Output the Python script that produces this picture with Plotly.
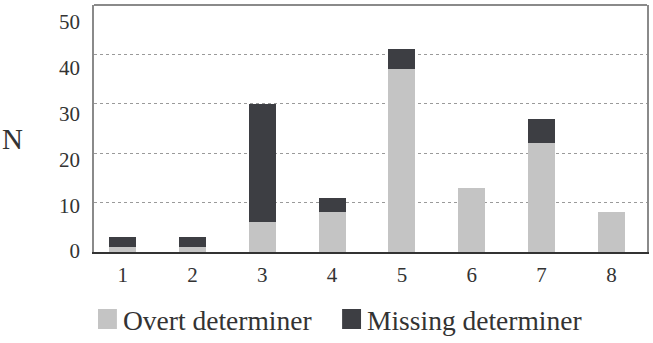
import plotly.graph_objects as go

categories = [1, 2, 3, 4, 5, 6, 7, 8]
tick_labels = ["1", "2", "3", "4", "5", "6", "7", "8"]
overt = [1, 1, 6, 8, 37, 13, 22, 8]
missing = [2, 2, 24, 3, 4, 0, 5, 0]
y_ticks = [0, 10, 20, 30, 40, 50]

W, H = 653, 343
L, R, T, B = 94, 4, 5, 91
pw, ph = W - L - R, H - T - B

def px_x(x):
    return (x - L) / pw

def px_y(y):
    return (H - B - y) / ph

FONT = "Liberation Serif"
TXT = "#333333"
C_OVERT = "#c4c4c4"
C_MISS = "#3d3e43"

fig = go.Figure()
fig.add_trace(go.Bar(x=categories, y=overt, name="Overt determiner",
                     marker=dict(color=C_OVERT, line=dict(width=0)), width=0.385))
fig.add_trace(go.Bar(x=categories, y=missing, name="Missing determiner",
                     marker=dict(color=C_MISS, line=dict(width=0)), width=0.385))
# invisible trace on label axis so it is drawn
fig.add_trace(go.Scatter(x=[categories[0]], y=[y_ticks[0]], yaxis="y2", mode="markers",
                         marker=dict(opacity=0), showlegend=False, hoverinfo="skip"))

fig.update_layout(
    width=W, height=H, margin=dict(l=L, r=R, t=T, b=B),
    barmode="stack", showlegend=False,
    plot_bgcolor="white", paper_bgcolor="white",
    font=dict(family=FONT, color=TXT),
    xaxis=dict(range=[0.59, 8.51], tickvals=categories, ticktext=tick_labels,
               tickfont=dict(size=21, family=FONT, color=TXT),
               showline=True, linecolor="#333333", linewidth=2,
               showgrid=False, zeroline=False, ticks="", ticklabelstandoff=3),
    yaxis=dict(range=[0, 50], tickvals=y_ticks, showticklabels=False,
               showline=True, linecolor="#8a8a8a", linewidth=2, mirror=True,
               showgrid=True, gridcolor="#9a9a9a", griddash="dot", gridwidth=1,
               zeroline=False, ticks=""),
    yaxis2=dict(overlaying="y", side="left", range=[-0.22, 53.71], tickvals=y_ticks,
                tickfont=dict(size=21, family=FONT, color=TXT),
                showline=False, showgrid=False, zeroline=False, ticks="",
                ticklabelstandoff=13),
)

shapes = [
    dict(type="line", xref="paper", yref="paper", x0=0, x1=1, y0=1, y1=1,
         line=dict(color="#8a8a8a", width=2)),
    dict(type="rect", xref="paper", yref="paper",
         x0=px_x(98), x1=px_x(117), y0=px_y(329), y1=px_y(309),
         fillcolor=C_OVERT, line=dict(width=0)),
    dict(type="rect", xref="paper", yref="paper",
         x0=px_x(343), x1=px_x(362), y0=px_y(329), y1=px_y(309),
         fillcolor=C_MISS, line=dict(width=0)),
]
fig.update_layout(shapes=shapes)

annotations = [
    dict(text="N", xref="paper", yref="paper", x=px_x(12), y=px_y(139),
         xanchor="center", yanchor="middle", showarrow=False,
         font=dict(size=29, family=FONT, color=TXT)),
    dict(text="Overt determiner", xref="paper", yref="paper", x=px_x(121), y=px_y(320),
         xanchor="left", yanchor="middle", showarrow=False,
         font=dict(size=27.5, family=FONT, color=TXT)),
    dict(text="Missing determiner", xref="paper", yref="paper", x=px_x(366), y=px_y(320),
         xanchor="left", yanchor="middle", showarrow=False,
         font=dict(size=27.5, family=FONT, color=TXT)),
]
fig.update_layout(annotations=annotations)

fig.write_html("out.html")
